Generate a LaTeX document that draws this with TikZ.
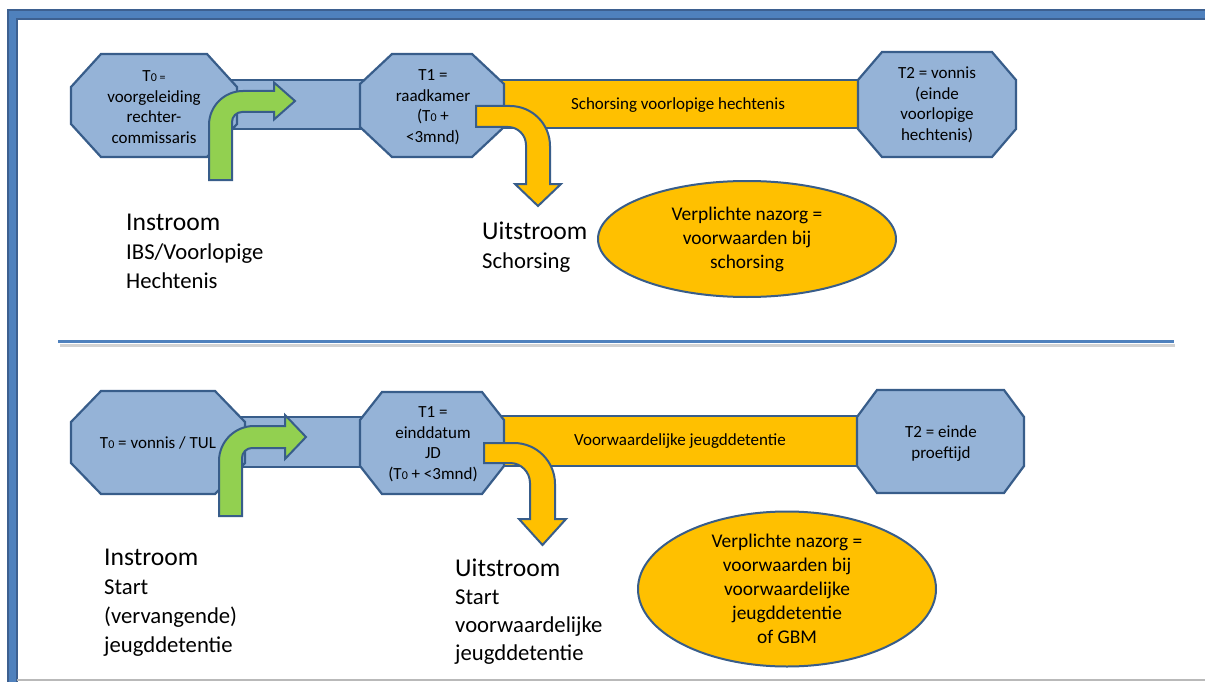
\documentclass[tikz,border=0pt]{standalone}
\usepackage{fontspec}
\setmainfont{Carlito}
\usetikzlibrary{shapes.geometric}
\definecolor{octfill}{HTML}{95B3D7}
\definecolor{darkline}{HTML}{385D8A}
\definecolor{greenfill}{HTML}{92D050}
\definecolor{orangefill}{HTML}{FFC000}
\definecolor{frameblue}{HTML}{4F81BD}
\definecolor{framedark}{HTML}{3D6090}
\newcommand{\zr}{{\fontsize{12}{12}\selectfont 0}}
\newcommand{\octa}[6]{\filldraw[octshape] (#1+#5,#2) -- (#3-#5,#2) -- (#3,#2+#6) -- (#3,#4-#6) -- (#3-#5,#4) -- (#1+#5,#4) -- (#1,#4-#6) -- (#1,#2+#6) -- cycle;}
\newcommand{\bigline}[1]{{\fontsize{25.6}{29}\selectfont #1}}
\tikzset{
  octshape/.style={fill=octfill, draw=darkline, line width=2.2pt, line join=miter},
  bluebar/.style={fill=octfill, draw=darkline, line width=2.2pt},
  orangebar/.style={fill=orangefill, draw=darkline, line width=2.2pt},
  greenarrow/.style={fill=greenfill, draw=darkline, line width=2pt, line join=miter},
  orangearrow/.style={fill=orangefill, draw=darkline, line width=2pt, line join=miter},
  octtext/.style={align=center, inner sep=0pt, font=\fontsize{17}{20.5}\selectfont},
  bartext/.style={inner sep=0pt, font=\fontsize{17}{20.5}\selectfont},
  elltext/.style={ellipse, fill=orangefill, draw=darkline, line width=2pt, align=center, inner sep=0pt, font=\fontsize{19.4}{24}\selectfont},
  flowtext/.style={align=left, anchor=north west, inner sep=0pt, font=\fontsize{22.7}{29}\selectfont},
}
\begin{document}
\begin{tikzpicture}[x=1pt,y=-1pt]
\useasboundingbox (0,0) rectangle (1205,682);
\clip (0,0) rectangle (1205,682);
\fill[white] (0,0) rectangle (1205,682);
% frame
\draw[frameblue, line width=11pt] (12.5,700) -- (12.5,14.5) -- (1230,14.5);
\draw[framedark, line width=2pt] (8,700) -- (8,10) -- (1230,10);
\draw[framedark, line width=2pt] (17,700) -- (17,19) -- (1230,19);
\draw[gray!55, line width=1.5pt] (17,680) -- (1230,680);
% separator
\draw[gray!35, line width=3pt] (60,345) -- (1175,345);
\draw[frameblue, line width=3.5pt] (58,341.5) -- (1174,341.5);

% ---------- top row ----------
\filldraw[bluebar] (225,80) rectangle (365,129);
\filldraw[orangebar] (500,80) rectangle (862,128);
\octa{71}{54}{237}{157}{30}{33}
\octa{360}{54}{504}{157}{32}{30}
\octa{858}{52}{1016}{157}{24}{28}
\node[octtext] (t0a) at (154,107) {T{\fontsize{12}{12}\selectfont 0 =}\\voorgeleiding\\rechter-\\commissaris};
\node[octtext] (t1a) at (433,107) {T1 =\\raadkamer\\(T\zr{} +\\<3mnd)};
\node[octtext] (t2a) at (937,105) {T2 = vonnis\\(einde\\voorlopige\\hechtenis)};
\node[bartext] (bara) at (678,105) {Schorsing voorlopige hechtenis};
\filldraw[greenarrow] (209,180) -- (209,125) .. controls (209,106.2) and (224.2,91) .. (243,91) -- (274,91) -- (274,82.5) -- (295,101) -- (274,119.5) -- (274,112) -- (242,112) .. controls (236.5,112) and (232,116.5) .. (232,122) -- (232,180) -- cycle;
\filldraw[orangearrow] (476,106) -- (510,106) .. controls (532.1,106) and (550,123.9) .. (550,146) -- (550,184) -- (561,184) -- (538,206) -- (515,184) -- (526,184) -- (526,145) .. controls (526,135.06) and (517.94,127) .. (508,127) -- (476,127) -- cycle;
\node[elltext, minimum width=298pt, minimum height=116pt] (ella) at (747,239) {Verplichte nazorg =\\voorwaarden bij\\schorsing};
\node[flowtext] (ina) at (126,213.5) {\bigline{Instroom}\\IBS/Voorlopige\\Hechtenis};
\node[flowtext] (outa) at (482,221.5) {\bigline{Uitstroom}\\Schorsing};

% ---------- bottom row ----------
\filldraw[bluebar] (235,417) rectangle (365,467);
\filldraw[orangebar] (500,416) rectangle (860,466);
\octa{71}{391}{245}{494}{30}{31}
\octa{360}{392}{504}{494}{22}{28}
\octa{857}{390}{1024}{493}{20}{27}
\node[octtext] (t0b) at (158,443) {T\zr{} = vonnis / TUL};
\node[octtext] (t1b) at (433,444) {T1 =\\einddatum\\JD\\(T\zr{} + <3mnd)};
\node[octtext] (t2b) at (941,443.5) {T2 = einde\\proeftijd};
\node[bartext] (barb) at (680,441) {Voorwaardelijke jeugddetentie};
\filldraw[greenarrow] (219,516) -- (219,461) .. controls (219,441.7) and (234.7,426) .. (254,426) -- (285,426) -- (285,415) -- (306,437) -- (285,459) -- (285,448) -- (252,448) .. controls (246.5,448) and (242,452.5) .. (242,458) -- (242,516) -- cycle;
\filldraw[orangearrow] (484,443) -- (514,443) .. controls (536.6,443) and (555,461.4) .. (555,484) -- (555,519) -- (566,519) -- (542.5,545) -- (519,519) -- (530,519) -- (530,483) .. controls (530,472) and (521,463) .. (510,463) -- (484,463) -- cycle;
\node[elltext, minimum width=298pt, minimum height=148pt] (ellb) at (787,589) {Verplichte nazorg =\\voorwaarden bij\\voorwaardelijke\\jeugddetentie\\of GBM};
\node[flowtext] (inb) at (104,548.5) {\bigline{Instroom}\\Start\\(vervangende)\\jeugddetentie};
\node[flowtext, font=\fontsize{22.7}{28}\selectfont] (outb) at (455,558.5) {\bigline{Uitstroom}\\Start\\voorwaardelijke\\jeugddetentie};
\end{tikzpicture}
\end{document}
